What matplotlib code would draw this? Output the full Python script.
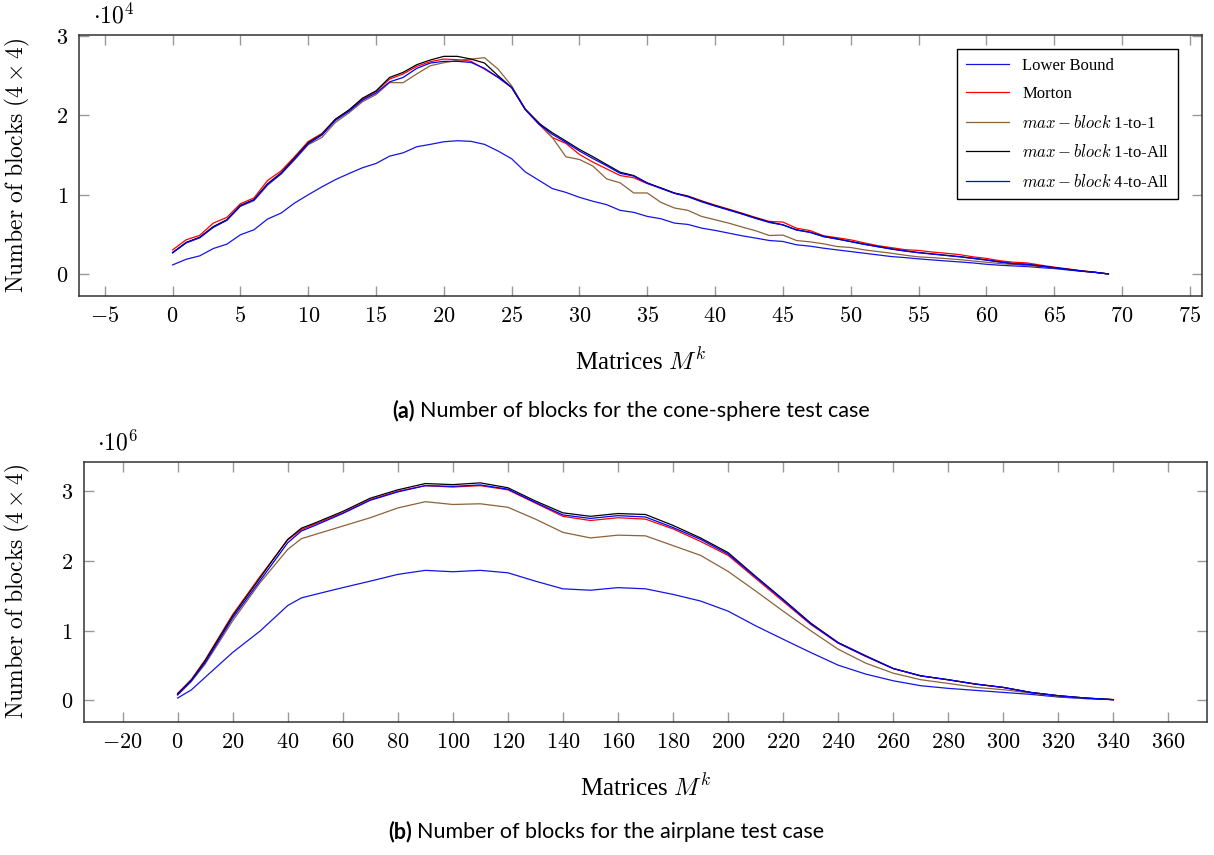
import numpy as np
import matplotlib
matplotlib.use("Agg")
import matplotlib.pyplot as plt
from matplotlib.ticker import FuncFormatter, MultipleLocator

plt.rcParams['mathtext.fontset'] = 'cm'

# ---- cone-sphere case (values in units of 1e4) ----
cone_x = np.arange(70)
cone_lower = [0.118, 0.189, 0.232, 0.324, 0.379, 0.497, 0.56, 0.695, 0.77, 0.897,
              1.0, 1.099, 1.19, 1.267, 1.34, 1.394, 1.486, 1.528, 1.604, 1.634,
              1.667, 1.68, 1.672, 1.634, 1.55, 1.453, 1.288, 1.183, 1.078, 1.03,
              0.968, 0.918, 0.876, 0.804, 0.779, 0.728, 0.699, 0.644, 0.627, 0.581,
              0.552, 0.518, 0.484, 0.455, 0.425, 0.413, 0.371, 0.354, 0.328, 0.307,
              0.286, 0.265, 0.244, 0.223, 0.21, 0.194, 0.181, 0.168, 0.156, 0.143,
              0.126, 0.114, 0.105, 0.097, 0.084, 0.072, 0.055, 0.038, 0.025, 0.004]
cone_morton = [0.307, 0.434, 0.49, 0.644, 0.716, 0.888, 0.96, 1.18, 1.30, 1.48,
               1.67, 1.77, 1.95, 2.06, 2.20, 2.30, 2.455, 2.52, 2.615, 2.674,
               2.707, 2.699, 2.68, 2.58, 2.476, 2.35, 2.07, 1.89, 1.72, 1.646,
               1.507, 1.41, 1.326, 1.242, 1.214, 1.14, 1.086, 1.02, 0.985, 0.925,
               0.87, 0.82, 0.768, 0.715, 0.665, 0.657, 0.58, 0.55, 0.485, 0.46,
               0.433, 0.395, 0.36, 0.335, 0.31, 0.3, 0.28, 0.265, 0.248, 0.22,
               0.2, 0.17, 0.152, 0.143, 0.115, 0.09, 0.068, 0.045, 0.027, 0.005]
cone_1to1 = [0.27, 0.40, 0.46, 0.595, 0.68, 0.855, 0.925, 1.12, 1.26, 1.44,
             1.63, 1.72, 1.91, 2.03, 2.17, 2.26, 2.41, 2.41, 2.52, 2.623,
             2.661, 2.69, 2.707, 2.724, 2.58, 2.37, 2.08, 1.91, 1.72, 1.478,
             1.444, 1.36, 1.2, 1.15, 1.023, 1.023, 0.905, 0.834, 0.804, 0.728,
             0.686, 0.644, 0.594, 0.547, 0.488, 0.493, 0.425, 0.408, 0.383, 0.349,
             0.337, 0.307, 0.286, 0.265, 0.24, 0.219, 0.21, 0.198, 0.185, 0.168,
             0.152, 0.135, 0.122, 0.109, 0.097, 0.08, 0.063, 0.042, 0.025, 0.004]
cone_1toall = [0.274, 0.40, 0.467, 0.60, 0.686, 0.867, 0.94, 1.14, 1.276, 1.465,
               1.655, 1.76, 1.95, 2.067, 2.215, 2.307, 2.476, 2.54, 2.636, 2.695,
               2.741, 2.741, 2.707, 2.657, 2.497, 2.35, 2.076, 1.90, 1.78, 1.676,
               1.57, 1.478, 1.381, 1.284, 1.242, 1.15, 1.086, 1.023, 0.98, 0.918,
               0.863, 0.813, 0.762, 0.707, 0.657, 0.623, 0.56, 0.53, 0.476, 0.446,
               0.413, 0.379, 0.349, 0.32, 0.295, 0.274, 0.257, 0.24, 0.223, 0.202,
               0.181, 0.156, 0.135, 0.126, 0.105, 0.084, 0.063, 0.042, 0.025, 0.004]
cone_4toall = [0.27, 0.395, 0.46, 0.59, 0.68, 0.86, 0.935, 1.13, 1.265, 1.45,
               1.64, 1.75, 1.935, 2.05, 2.19, 2.28, 2.42, 2.476, 2.59, 2.657,
               2.678, 2.678, 2.665, 2.59, 2.476, 2.35, 2.076, 1.89, 1.76, 1.66,
               1.55, 1.455, 1.365, 1.27, 1.235, 1.145, 1.08, 1.018, 0.975, 0.912,
               0.858, 0.808, 0.757, 0.702, 0.652, 0.62, 0.556, 0.527, 0.473, 0.443,
               0.41, 0.376, 0.346, 0.317, 0.292, 0.271, 0.254, 0.237, 0.22, 0.2,
               0.179, 0.154, 0.133, 0.124, 0.103, 0.083, 0.062, 0.041, 0.024, 0.004]

# ---- airplane case (values in units of 1e6) ----
plane_x = [0, 5, 10, 20, 30, 40, 45, 50, 60, 70, 80, 90, 100, 110, 120, 130, 140,
           150, 160, 170, 180, 190, 200, 210, 220, 230, 240, 250, 260, 270, 280,
           290, 300, 310, 320, 330, 340]
plane_lower = [0.033, 0.15, 0.33, 0.687, 0.995, 1.36, 1.47, 1.52, 1.617, 1.71, 1.807,
               1.865, 1.845, 1.865, 1.83, 1.71, 1.6, 1.58, 1.617, 1.6, 1.52, 1.425,
               1.28, 1.07, 0.877, 0.687, 0.505, 0.377, 0.281, 0.21, 0.172, 0.143,
               0.114, 0.086, 0.048, 0.024, 0.01]
plane_morton = [0.1, 0.3, 0.58, 1.23, 1.78, 2.3, 2.45, 2.53, 2.69, 2.88, 3.0,
                3.08, 3.06, 3.08, 3.02, 2.83, 2.64, 2.58, 2.62, 2.60, 2.46, 2.28,
                2.08, 1.75, 1.42, 1.09, 0.82, 0.63, 0.455, 0.35, 0.295, 0.232,
                0.185, 0.113, 0.066, 0.033, 0.01]
plane_1to1 = [0.076, 0.27, 0.52, 1.14, 1.69, 2.165, 2.32, 2.38, 2.5, 2.62, 2.76,
              2.85, 2.81, 2.82, 2.77, 2.6, 2.41, 2.33, 2.37, 2.36, 2.22, 2.08,
              1.85, 1.57, 1.28, 1.0, 0.734, 0.534, 0.39, 0.296, 0.243, 0.186,
              0.153, 0.105, 0.057, 0.029, 0.01]
plane_1toall = [0.09, 0.29, 0.567, 1.21, 1.76, 2.31, 2.47, 2.546, 2.71, 2.9, 3.02,
                3.11, 3.095, 3.12, 3.05, 2.86, 2.69, 2.64, 2.68, 2.666, 2.51, 2.33,
                2.12, 1.78, 1.45, 1.11, 0.83, 0.64, 0.458, 0.353, 0.296, 0.234,
                0.186, 0.114, 0.067, 0.033, 0.01]
plane_4toall = [0.08, 0.28, 0.54, 1.18, 1.72, 2.26, 2.43, 2.51, 2.68, 2.87, 2.99,
                3.08, 3.07, 3.09, 3.03, 2.84, 2.66, 2.61, 2.65, 2.63, 2.48, 2.31,
                2.10, 1.77, 1.44, 1.10, 0.825, 0.635, 0.456, 0.351, 0.295, 0.233,
                0.185, 0.113, 0.066, 0.033, 0.01]

labels = ['Lower Bound', 'Morton',
          r'$\mathit{max} - \mathit{block}$ 1-to-1',
          r'$\mathit{max} - \mathit{block}$ 1-to-All',
          r'$\mathit{max} - \mathit{block}$ 4-to-All']
colors = ['#1414e6', '#ff0000', '#8c6239', '#000000', '#0000ff']


def style_axis(ax, xstep, scale_exp, ylab_x):
    ax.xaxis.set_major_locator(MultipleLocator(xstep))
    ax.yaxis.set_major_locator(MultipleLocator(1))
    ax.xaxis.set_major_formatter(FuncFormatter(lambda v, p: f'${v:g}$'))
    ax.yaxis.set_major_formatter(FuncFormatter(lambda v, p: f'${v:g}$'))
    ax.tick_params(direction='in', length=7, width=1, color='#999999',
                   top=True, right=True, labelsize=16)
    ax.tick_params(axis='x', pad=7)
    ax.tick_params(axis='y', pad=8)
    for s in ax.spines.values():
        s.set_color('#333333')
        s.set_linewidth(1.1)
    ax.set_xlabel(r'Matrices $M^k$', fontsize=18, family='Liberation Serif')
    ax.xaxis.set_label_coords(0.5, -0.2)
    ax.set_ylabel(r'$\mathrm{Number\ of\ blocks}\ (\mathit{4}\times\mathit{4})$', fontsize=17)
    ax.yaxis.set_label_coords(ylab_x, 0.5)
    ax.text(0.012, 1.025, r'$\cdot 10^{%d}$' % scale_exp, transform=ax.transAxes,
            fontsize=17, ha='left', va='bottom')


fig = plt.figure(figsize=(12.14, 8.55), dpi=100)

ax1 = fig.add_axes([0.0651, 0.6538, 0.9250, 0.3053])
for ys, c, lab in zip([cone_lower, cone_morton, cone_1to1, cone_1toall, cone_4toall], colors, labels):
    ax1.plot(cone_x, ys, color=c, lw=0.9, label=lab)
ax1.set_xlim(-6.9, 75.9)
ax1.set_ylim(-0.273, 3.01)
style_axis(ax1, 5, 4, -0.042)
leg = ax1.legend(loc='upper right', bbox_to_anchor=(0.986, 0.977), fancybox=False,
                 edgecolor='black', framealpha=1, handlelength=2.6,
                 labelspacing=0.75, borderpad=0.5,
                 prop={'family': 'Liberation Serif', 'size': 12})
leg.get_frame().set_linewidth(1.0)

ax2 = fig.add_axes([0.0692, 0.1556, 0.9250, 0.3041])
for ys, c in zip([plane_lower, plane_morton, plane_1to1, plane_1toall, plane_4toall], colors):
    ax2.plot(plane_x, ys, color=c, lw=0.9)
ax2.set_xlim(-34, 374)
ax2.set_ylim(-0.31, 3.42)
style_axis(ax2, 20, 6, -0.046)

# captions
cap_font = {'family': 'Lato', 'size': 15.5}
fig.text(415 / 1214, 1 - 411 / 855, '(a)', ha='right', va='center', weight='bold', **cap_font)
fig.text(420 / 1214, 1 - 411 / 855, 'Number of blocks for the cone-sphere test case',
         ha='left', va='center', **cap_font)
fig.text(412 / 1214, 1 - 832 / 855, '(b)', ha='right', va='center', weight='bold', **cap_font)
fig.text(417 / 1214, 1 - 832 / 855, 'Number of blocks for the airplane test case',
         ha='left', va='center', **cap_font)

fig.savefig('out.png', dpi=100)
